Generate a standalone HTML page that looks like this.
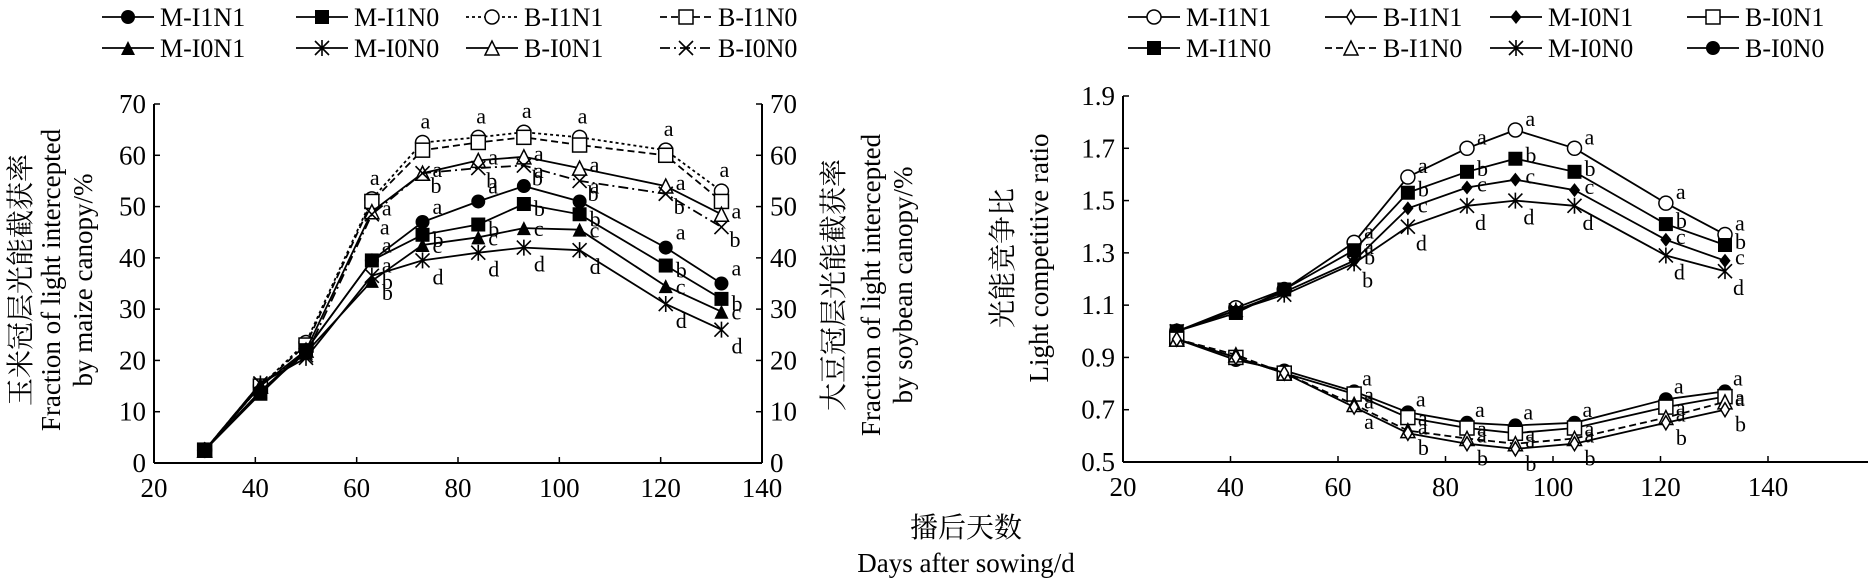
<!DOCTYPE html>
<html><head><meta charset="utf-8"><style>
body{margin:0;background:#fff;}
svg{display:block;font-family:"Liberation Serif","Noto Serif CJK SC",serif;}
</style></head><body>
<svg id="c" width="1868" height="579" viewBox="0 0 1868 579"></svg>
<script>
const days=[30,41,50,63,73,84,93,104,121,132];
const xTicks=[20,40,60,80,100,120,140];
const yTicksL=[0,10,20,30,40,50,60,70];
const yTicksR=[0.5,0.7,0.9,1.1,1.3,1.5,1.7,1.9];
const mI1N1=[2.5,14,22,39.5,47,51,54,51,42,35];
const mI1N0=[2.5,13.5,22,39.5,44.5,46.5,50.5,48.5,38.5,32];
const mI0N1=[2.5,14,21.5,35.5,42.5,44,45.8,45.5,34.5,29.5];
const mI0N0=[2.5,15.5,20.5,36.5,39.5,41,42,41.5,31,26];
const bI1N1=[2.5,15,23.5,51.5,62.5,63.5,64.5,63.5,61,53];
const bI1N0=[2.5,15,23,51,61,62.5,63.5,62,60,51];
const bI0N1=[2.5,15,22,49,56.5,59,59.7,57.5,54,48.5];
const bI0N0=[2.5,15.5,21,48.5,56.5,57.5,58,55,52.5,46];
const rM_I1N1=[1.0,1.09,1.16,1.34,1.59,1.70,1.77,1.70,1.49,1.37];
const rM_I1N0=[1.0,1.07,1.16,1.31,1.53,1.61,1.66,1.61,1.41,1.33];
const rM_I0N1=[1.0,1.08,1.15,1.27,1.47,1.55,1.58,1.54,1.35,1.27];
const rM_I0N0=[1.0,1.08,1.14,1.26,1.40,1.48,1.50,1.48,1.29,1.23];
const rB_I1N1=[0.97,0.90,0.84,0.71,0.61,0.57,0.55,0.57,0.65,0.70];
const rB_I1N0=[0.97,0.91,0.84,0.72,0.62,0.59,0.57,0.59,0.67,0.73];
const rB_I0N1=[0.97,0.90,0.84,0.76,0.67,0.63,0.61,0.63,0.71,0.75];
const rB_I0N0=[0.97,0.89,0.85,0.77,0.69,0.65,0.64,0.65,0.74,0.77];
const lettersA=['','','','a','a','a','a','a','a','a'];
const lettersB=['','','','a','b','b','b','b','b','b'];
const lettersC=['','','','b','c','c','c','c','c','c'];
const lettersD=['','','','b','d','d','d','d','d','d'];

const NS='http://www.w3.org/2000/svg';
const svg=document.getElementById('c');
function mk(t,a,p){const e=document.createElementNS(NS,t);for(const k in a)e.setAttribute(k,a[k]);(p||svg).appendChild(e);return e;}
function txt(s,x,y,size,anchor,p,rot){const e=mk('text',{x:x,y:y,'font-size':size,'text-anchor':anchor||'start',fill:'#000'},p);if(rot)e.setAttribute('transform','rotate(-90 '+x+' '+y+')');e.textContent=s;return e;}

// scales
const L={x0:154,x1:762,y0:463,y1:104,vmin:0,vmax:70};
const R={x0:1123,x1:1768,y0:462,y1:96,vmin:0.5,vmax:1.9};
function sx(c,d){return c.x0+(d-20)/(120)*(c.x1-c.x0);}
function sy(c,v){return c.y0-(v-c.vmin)/(c.vmax-c.vmin)*(c.y0-c.y1);}

function marker(type,x,y,g){
  const s=7;
  if(type==='fcircle')mk('circle',{cx:x,cy:y,r:s,fill:'#000'},g);
  else if(type==='ocircle')mk('circle',{cx:x,cy:y,r:s,fill:'#fff',stroke:'#000','stroke-width':1.5},g);
  else if(type==='fsquare')mk('rect',{x:x-s,y:y-s,width:2*s,height:2*s,fill:'#000'},g);
  else if(type==='osquare')mk('rect',{x:x-s,y:y-s,width:2*s,height:2*s,fill:'#fff',stroke:'#000','stroke-width':1.5},g);
  else if(type==='ftri')mk('polygon',{points:(x)+','+(y-s)+' '+(x-s)+','+(y+s)+' '+(x+s)+','+(y+s),fill:'#000'},g);
  else if(type==='otri')mk('polygon',{points:(x)+','+(y-s)+' '+(x-s)+','+(y+s)+' '+(x+s)+','+(y+s),fill:'#fff',stroke:'#000','stroke-width':1.5},g);
  else if(type==='fdiam')mk('polygon',{points:x+','+(y-s)+' '+(x+s*0.8)+','+y+' '+x+','+(y+s)+' '+(x-s*0.8)+','+y,fill:'#000'},g);
  else if(type==='odiam')mk('polygon',{points:x+','+(y-s)+' '+(x+s*0.6)+','+y+' '+x+','+(y+s)+' '+(x-s*0.6)+','+y,fill:'#fff',stroke:'#000','stroke-width':1.5},g);
  else if(type==='star'||type==='x'){
    mk('path',{d:'M'+(x-s)+' '+(y-s)+'L'+(x+s)+' '+(y+s)+'M'+(x-s)+' '+(y+s)+'L'+(x+s)+' '+(y-s)+(type==='star'?'M'+x+' '+(y-s-1)+'L'+x+' '+(y+s+1):''),stroke:'#000','stroke-width':1.6,fill:'none'},g);
  }
}
const dashes={solid:'',dot:'3,3',dash:'7,4',dashdot:'10,4,2,4'};

function series(c,name,vals,mtype,dash,letters,lx,ly){
  const g=mk('g',{});
  
  
  let d='';
  vals.forEach((v,i)=>{d+=(i?'L':'M')+sx(c,days[i]).toFixed(1)+' '+sy(c,v).toFixed(1);});
  const p=mk('path',{d:d,fill:'none',stroke:'#000','stroke-width':1.8},g);
  if(dashes[dash])p.setAttribute('stroke-dasharray',dashes[dash]);
  vals.forEach((v,i)=>{marker(mtype,sx(c,days[i]),sy(c,v),g);
    if(letters&&letters[i]){const t=txt(letters[i],sx(c,days[i])+lx,sy(c,v)+ly,22,'start',g);}
  });
}

function axes(c,yt,rightAxis,fmt,name){
  const g=mk('g',{});
  
  
  mk('line',{x1:c.x0,y1:c.y0,x2:name==='right-axes'?1868:c.x1,y2:c.y0,stroke:'#000','stroke-width':2},g);
  mk('line',{x1:c.x0,y1:c.y0,x2:c.x0,y2:c.y1,stroke:'#000','stroke-width':2},g);
  if(rightAxis)mk('line',{x1:c.x1,y1:c.y0,x2:c.x1,y2:c.y1,stroke:'#000','stroke-width':2},g);
  xTicks.forEach(t=>{const x=sx(c,t);mk('line',{x1:x,y1:c.y0,x2:x,y2:c.y0-6,stroke:'#000','stroke-width':1.5},g);
    txt(String(t),x,c.y0+34,27,'middle',g);});
  yt.forEach(t=>{const y=sy(c,t);mk('line',{x1:c.x0,y1:y,x2:c.x0+6,y2:y,stroke:'#000','stroke-width':1.5},g);
    txt(fmt(t),c.x0-8,y+9,27,'end',g);
    if(rightAxis){mk('line',{x1:c.x1,y1:y,x2:c.x1-6,y2:y,stroke:'#000','stroke-width':1.5},g);txt(fmt(t),c.x1+8,y+9,27,'start',g);}
  });
}
axes(L,yTicksL,true,t=>String(t),'left-axes');
axes(R,yTicksR,false,t=>t.toFixed(1),'right-axes');

series(L,'series-b-i1n1',bI1N1,'ocircle','dot',lettersA,-2,-14);
series(L,'series-b-i1n0',bI1N0,'osquare','dash',null,0,0);
series(L,'series-b-i0n1',bI0N1,'otri','solid',lettersA,10,4);
series(L,'series-b-i0n0',bI0N0,'x','dashdot',lettersB,8,20);
series(L,'series-m-i1n1',mI1N1,'fcircle','solid',lettersA,10,-8);
series(L,'series-m-i1n0',mI1N0,'fsquare','solid',lettersB,10,12);
series(L,'series-m-i0n1',mI0N1,'ftri','solid',lettersC,10,8);
series(L,'series-m-i0n0',mI0N0,'star','solid',lettersD,10,24);

series(R,'series-r-m-i1n1',rM_I1N1,'ocircle','solid',lettersA,10,-4);
series(R,'series-r-m-i1n0',rM_I1N0,'fsquare','solid',lettersB,10,4);
series(R,'series-r-m-i0n1',rM_I0N1,'fdiam','solid',lettersC,10,4);
series(R,'series-r-m-i0n0',rM_I0N0,'star','solid',lettersD,8,24);
series(R,'series-r-b-i0n0',rB_I0N0,'fcircle','solid',lettersA,8,-6);
series(R,'series-r-b-i0n1',rB_I0N1,'osquare','solid',lettersA,10,8);
series(R,'series-r-b-i1n0',rB_I1N0,'otri','dash',lettersA,10,4);
series(R,'series-r-b-i1n1',rB_I1N1,'odiam','solid',lettersB,10,22);

// titles
txt('玉米冠层光能截获率',30,280,28,'middle',null,true);
txt('Fraction of light intercepted',60,280,27,'middle',null,true);
txt('by maize canopy/%',92,280,27,'middle',null,true);
txt('大豆冠层光能截获率',843,285,28,'middle',null,true);
txt('Fraction of light intercepted',880,285,27,'middle',null,true);
txt('by soybean canopy/%',912,285,27,'middle',null,true);
txt('光能竞争比',1012,258,28,'middle',null,true);
txt('Light competitive ratio',1048,258,27,'middle',null,true);
txt('播后天数',966,537,28,'middle');
txt('Days after sowing/d',966,572,27,'middle');

// legends
function legend(x1,y,label,mtype,dash,name){
  const g=mk('g',{});
  
  
  const l=mk('line',{x1:x1,y1:y,x2:x1+52,y2:y,stroke:'#000','stroke-width':1.8},g);
  if(dashes[dash])l.setAttribute('stroke-dasharray',dashes[dash]);
  marker(mtype,x1+26,y,g);
  txt(label,x1+58,y+9,26,'start',g);
}
legend(102,17,'M-I1N1','fcircle','solid','legend-m-i1n1');
legend(296,17,'M-I1N0','fsquare','solid','legend-m-i1n0');
legend(466,17,'B-I1N1','ocircle','dot','legend-b-i1n1');
legend(660,17,'B-I1N0','osquare','dash','legend-b-i1n0');
legend(102,48,'M-I0N1','ftri','solid','legend-m-i0n1');
legend(296,48,'M-I0N0','star','solid','legend-m-i0n0');
legend(466,48,'B-I0N1','otri','solid','legend-b-i0n1');
legend(660,48,'B-I0N0','x','dashdot','legend-b-i0n0');
legend(1128,17,'M-I1N1','ocircle','solid','legend-r-m-i1n1');
legend(1325,17,'B-I1N1','odiam','solid','legend-r-b-i1n1');
legend(1490,17,'M-I0N1','fdiam','solid','legend-r-m-i0n1');
legend(1687,17,'B-I0N1','osquare','solid','legend-r-b-i0n1');
legend(1128,48,'M-I1N0','fsquare','solid','legend-r-m-i1n0');
legend(1325,48,'B-I1N0','otri','dash','legend-r-b-i1n0');
legend(1490,48,'M-I0N0','star','solid','legend-r-m-i0n0');
legend(1687,48,'B-I0N0','fcircle','solid','legend-r-b-i0n0');
</script>
</body></html>
